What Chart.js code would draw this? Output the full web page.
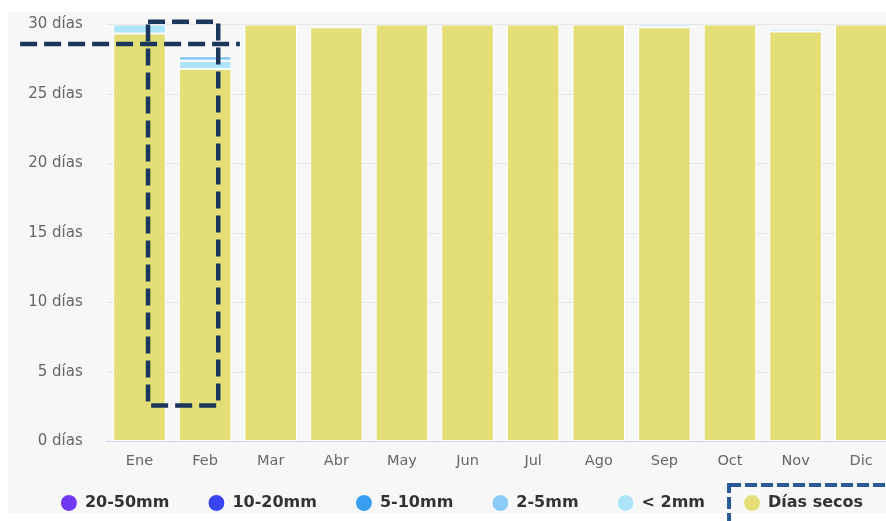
<!DOCTYPE html>
<html><head><meta charset="utf-8">
<script src="https://cdn.jsdelivr.net/npm/chart.js@4"></script>
<style>
html,body{margin:0;padding:0;background:#fff;overflow:hidden;width:886px;height:521px}
#panel{position:absolute;left:8px;top:12px;width:906px;height:501px;background:#f7f7f7}
#c{position:absolute;left:8px;top:12px}
</style></head><body>
<div id="panel"></div>
<canvas id="c" width="906" height="509"></canvas>
<script>
const categories = ['Ene','Feb','Mar','Abr','May','Jun','Jul','Ago','Sep','Oct','Nov','Dic'];
const yTicks = [0,5,10,15,20,25,30];
const diasSecos = [29.35,26.8,30,29.8,30,30,30,30,29.8,30,29.5,30];
const menos2mm  = [0.65,0.6,0,0,0,0,0,0,0.2,0,0.2,0];
const mm2a5     = [0,0.33,0,0,0,0,0,0,0,0,0,0];
const mm5a10    = [0,0,0,0,0,0,0,0,0,0,0,0];
const mm10a20   = [0,0,0,0,0,0,0,0,0,0,0,0];
const mm20a50   = [0,0,0,0,0,0,0,0,0,0,0,0];

const LEG_DY = 17, LEG_DX = 11;

const legendTweak = {
  id:'legendTweak',
  beforeLayout(chart){
    const lg = chart.legend;
    if (lg && !lg._tweaked) {
      lg._tweaked = true;
      const f = lg.fit;
      lg.fit = function(){ f.apply(this, arguments); this.height -= LEG_DY; };
      const d = lg.draw;
      lg.draw = function(){
        const t = this.top, l = this.left, r = this.right;
        this.top = t - LEG_DY; this.left = l + LEG_DX; this.right = r + LEG_DX;
        d.apply(this, arguments);
        this.top = t; this.left = l; this.right = r;
      };
    }
  }
};

const annot = {
  id:'annot',
  afterDraw(chart){
    const {ctx, scales:{x,y}} = chart;
    const a = x.getPixelForValue(0), b = x.getPixelForValue(1);
    const px = t => a + (b-a)*t;
    ctx.save();
    ctx.strokeStyle = '#1b365d'; ctx.lineWidth = 4.5; ctx.setLineDash([17,7]);
    ctx.beginPath();
    ctx.moveTo(px(-1.82), y.getPixelForValue(28.6));
    ctx.lineTo(px(1.53), y.getPixelForValue(28.6));
    ctx.stroke();
    const t = y.getPixelForValue(30.2), bt = y.getPixelForValue(2.6);
    ctx.strokeRect(px(0.13), t, px(1.2)-px(0.13), bt - t);
    const hbs = chart.legend.legendHitBoxes;
    const hb = hbs[hbs.length-1];
    ctx.strokeStyle = '#2a5896'; ctx.lineWidth = 4; ctx.setLineDash([12,4]);
    ctx.strokeRect(hb.left + LEG_DX - 15, hb.top - LEG_DY - 10, 400, 100);
    ctx.restore();
  }
};

new Chart(document.getElementById('c'), {
  type:'bar',
  data:{
    labels: categories,
    datasets:[
      {label:'Días secos', data:diasSecos, backgroundColor:'#e3de75'},
      {label:'< 2mm', data:menos2mm, backgroundColor:'#aee4f7'},
      {label:'2-5mm', data:mm2a5, backgroundColor:'#8ccaf7'},
      {label:'5-10mm', data:mm5a10, backgroundColor:'#379ef2'},
      {label:'10-20mm', data:mm10a20, backgroundColor:'#3a45f2'},
      {label:'20-50mm', data:mm20a50, backgroundColor:'#7038f2'}
    ].map(d => Object.assign(d, {borderColor:'#ffffff', borderWidth:1, categoryPercentage:1, barPercentage:0.8, borderSkipped:false}))
  },
  options:{
    responsive:false, animation:false,
    layout:{padding:{top:12.5, right:20, bottom:0, left:0}},
    plugins:{
      tooltip:{enabled:false},
      legend:{
        position:'bottom', reverse:true,
        labels:{usePointStyle:true, pointStyle:'circle', boxWidth:16, boxHeight:12, padding:39,
          color:'#333333', font:{family:'DejaVu Sans', size:16, weight:'bold'}}
      }
    },
    scales:{
      x:{stacked:true,
         grid:{display:false},
         border:{color:'#ccd6eb'},
         ticks:{color:'#666666', font:{family:'DejaVu Sans', size:14.5}, padding:3}},
      y:{stacked:true, min:0, max:30,
         afterBuildTicks(s){ s.ticks = yTicks.map(v=>({value:v})); },
         afterFit(s){ s.width = 98.7; },
         grid:{color:'#e6e6e6', drawTicks:true, tickLength:24, tickColor:'rgba(0,0,0,0)'},
         border:{display:false},
         ticks:{color:'#666666', font:{family:'DejaVu Sans', size:15}, padding:0,
           callback:v => v + ' días'}}
    }
  },
  plugins:[legendTweak, annot]
});
</script>
</body></html>
